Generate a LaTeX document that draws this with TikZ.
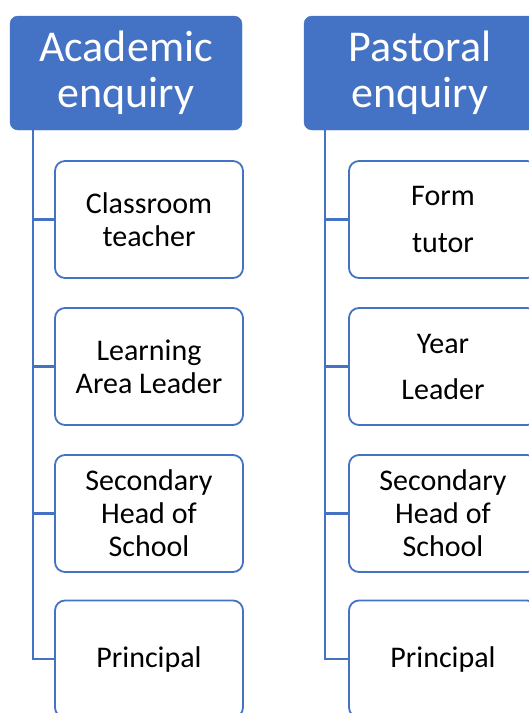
\documentclass[tikz,border=0pt]{standalone}
\usepackage{fontspec}
\setmainfont{Carlito}
\usepackage{tikz}

\definecolor{officeblue}{HTML}{4472C4}

\begin{document}
\begin{tikzpicture}[x=1pt,y=-1pt]
    \tikzstyle{head}=[rectangle,rounded corners=8pt,fill=officeblue,draw=officeblue,text=white,
        minimum width=232pt,minimum height=114pt,align=center,inner sep=0pt,
        font=\fontsize{44}{46}\selectfont]
    \tikzstyle{role}=[rectangle,rounded corners=10pt,fill=white,draw=officeblue,line width=1.8pt,
        minimum width=188pt,minimum height=117pt,align=center,inner sep=0pt,
        font=\fontsize{30}{33}\selectfont]
    \tikzstyle{branch}=[draw=officeblue,line width=2.4pt]

    % page, cut off at the right and at the bottom like the reference
    \useasboundingbox (0,0) rectangle (529,713);
    \clip (0,0) rectangle (529,713);

    % Draw the two heads
    \node[head] (A) at (126,73) {Academic\\enquiry};
    \node[head] (P) at (420,73) {Pastoral\\enquiry};
    \coordinate (A-top) at (33,130);
    \coordinate (P-top) at (325,130);

    % Academic column
    \foreach \name / \y / \txt in {1/219.5/{Classroom\\teacher},
                                    2/366.5/{Learning\\Area Leader},
                                    3/513.5/{Secondary\\Head of\\School},
                                    4/659/{Principal}}
        \node[role] (A-\name) at (149,\y) {\txt};

    % Pastoral column
    \foreach \name / \y / \txt in {1/219.5/{Form\\[14pt]tutor},
                                    2/366.5/{Year\\[13pt]Leader},
                                    3/513.5/{Secondary\\Head of\\School},
                                    4/659/{Principal}}
        \node[role] (P-\name) at (443,\y) {\txt};

    % Connect each head with the boxes under it
    \foreach \dest in {1,...,4} {
        \path[branch] (A-top) |- (A-\dest.west);
        \path[branch] (P-top) |- (P-\dest.west);
    }
\end{tikzpicture}
\end{document}
